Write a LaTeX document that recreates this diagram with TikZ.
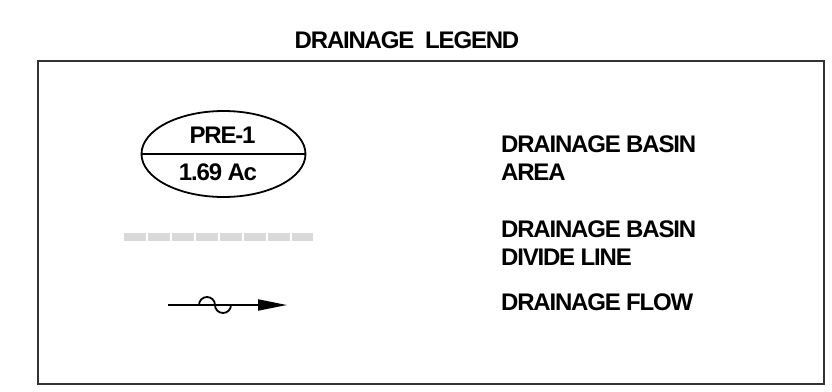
\documentclass[tikz,border=0pt]{standalone}
\usepackage{fontspec}
\setmainfont{Liberation Sans}
\newfontfamily\legendfont[LetterSpace=-5]{Liberation Sans}
\usetikzlibrary{arrows.meta,shapes.geometric}

\begin{document}
\begin{tikzpicture}[
  x=1pt, y=-1pt,
  >=Stealth,
  legtext/.style={anchor=base west, inner sep=0pt, font=\legendfont\fontsize{24}{28}\selectfont\bfseries},
  basinlabel/.style={anchor=base, inner sep=0pt, font=\legendfont\fontsize{24}{28}\selectfont\bfseries},
  basin/.style={draw, ellipse, line width=1.8pt, minimum width=164pt, minimum height=86pt, inner sep=0pt},
  divide/.style={line width=8.5pt, black!15, dash pattern=on 21.5pt off 2.5pt},
  flow/.style={line width=1.8pt, -{Triangle[length=29pt, width=11pt]}},
]
\useasboundingbox (0,0) rectangle (832,391);

\node[basinlabel] (title) at (407,48) {DRAINAGE\ \ LEGEND};
\draw[line width=1.6pt, black!80] (38,61) rectangle (824,384);

\node[basin] (basin) at (223.5,154) {};
\draw[line width=1.6pt] (basin.west) -- (basin.east);
\node[basinlabel] (pre) at (222.5,143) {PRE-1};
\node[basinlabel] (area) at (218,180) {1.69 Ac};

\coordinate (divA) at (124,237);
\coordinate (divB) at (313,237);
\draw[divide] (divA) -- (divB);

\coordinate (flowA) at (168,305);
\coordinate (waveA) at (199,305);
\coordinate (flowB) at (287,305);
\draw[line width=1.8pt] (waveA) arc[start angle=180, end angle=360, radius=8]
  arc[start angle=180, end angle=0, radius=8];
\draw[flow] (flowA) -- (flowB);

\node[legtext] (t1a) at (501,152) {DRAINAGE BASIN};
\node[legtext] (t1b) at (501,180) {AREA};
\node[legtext] (t2a) at (501,237) {DRAINAGE BASIN};
\node[legtext] (t2b) at (501,265) {DIVIDE LINE};
\node[legtext] (t3) at (501,310) {DRAINAGE FLOW};

\end{tikzpicture}
\end{document}
